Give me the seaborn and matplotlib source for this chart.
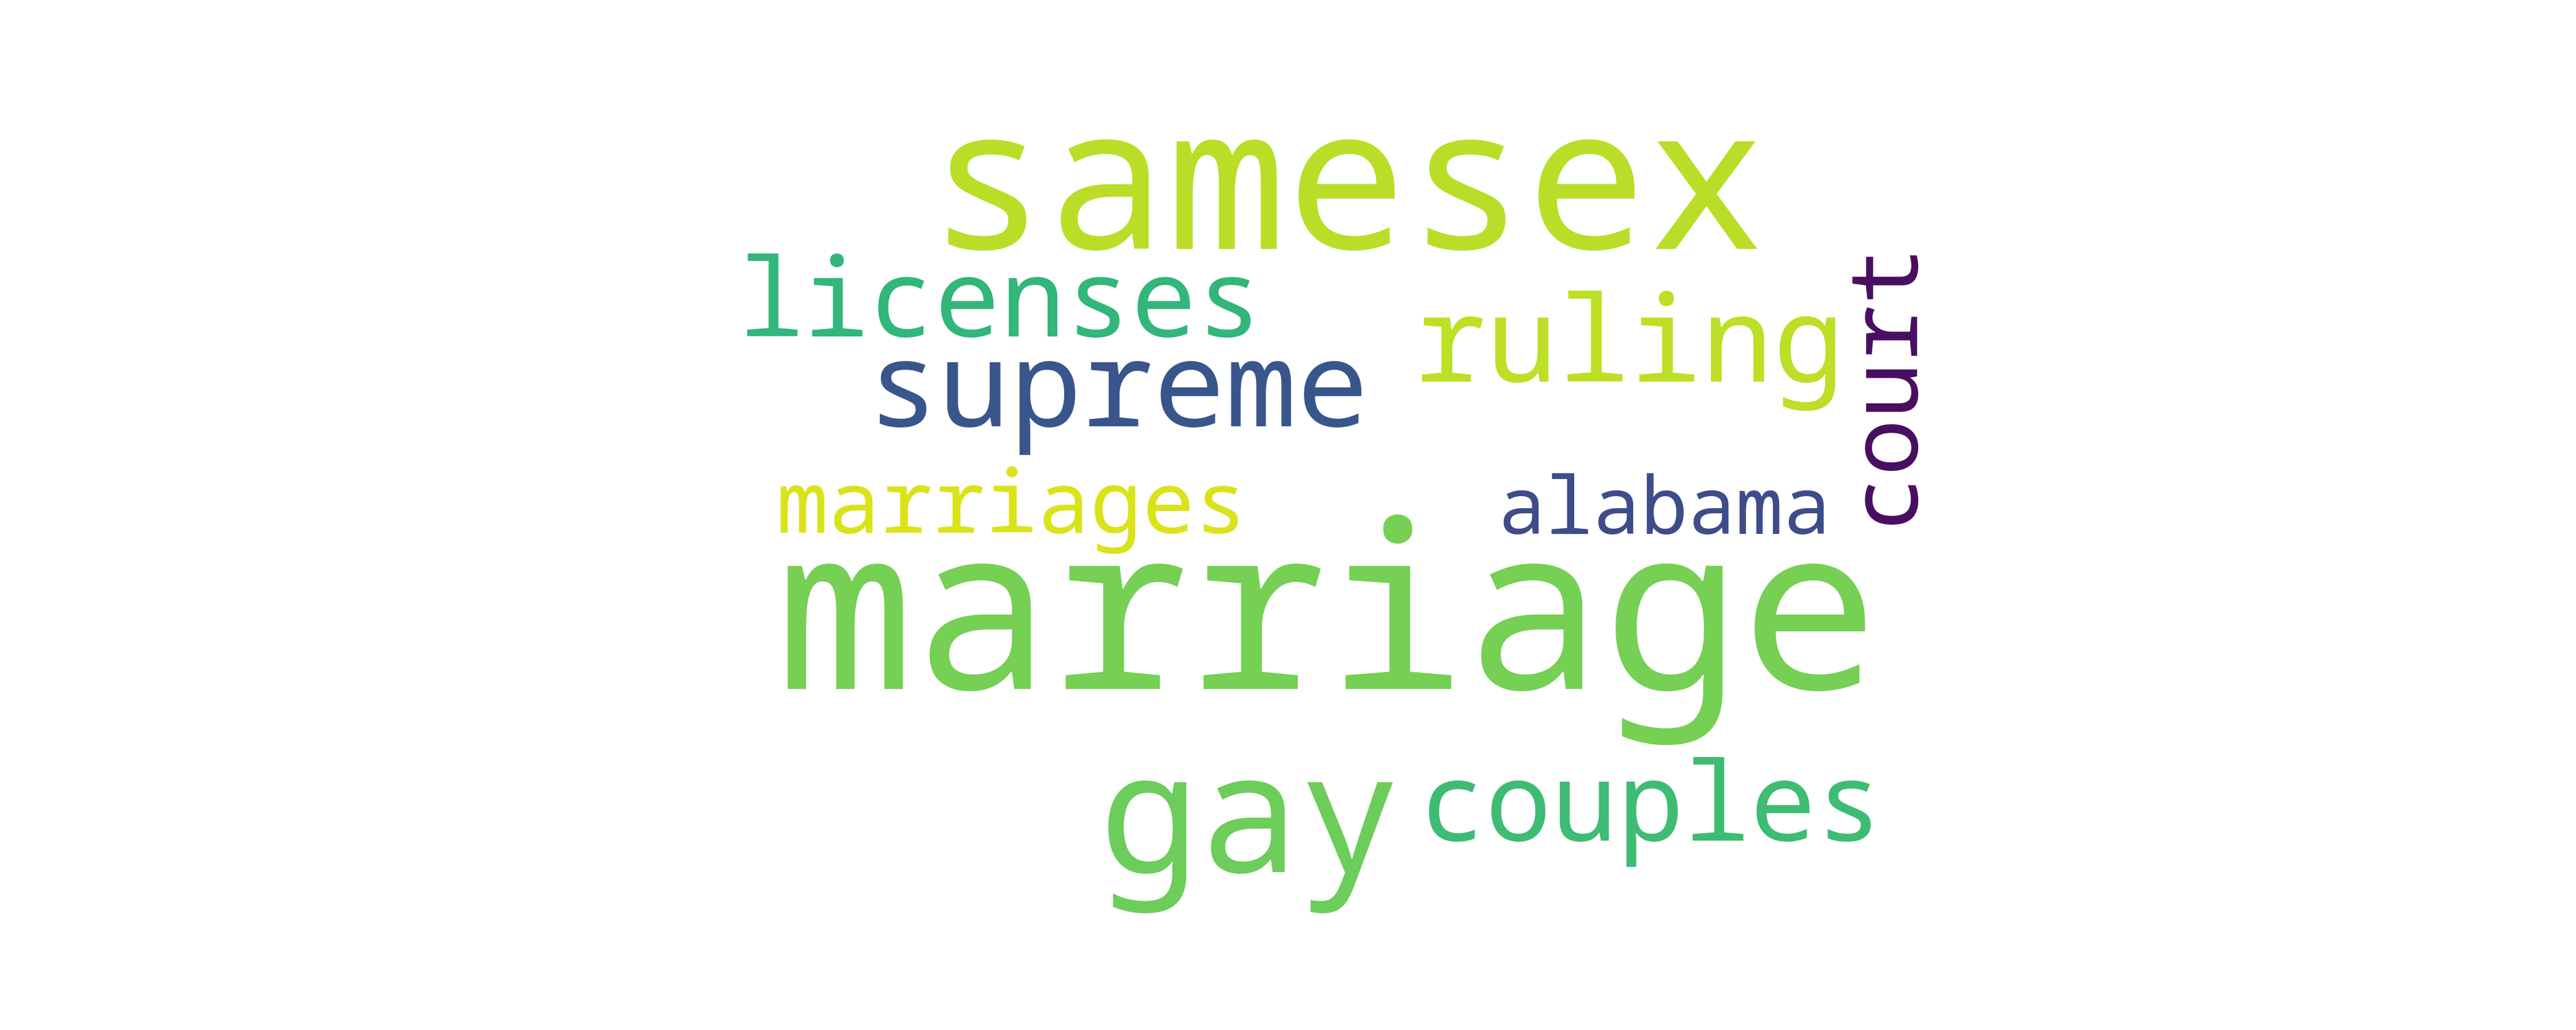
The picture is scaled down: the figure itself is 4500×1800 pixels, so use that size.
import matplotlib
matplotlib.use("Agg")
import matplotlib.pyplot as plt
import seaborn as sns
import logging
logging.getLogger("matplotlib.font_manager").setLevel(logging.ERROR)

# ---- data: words and their relative weights (font size relative to the largest word)
words = ["marriage", "samesex", "gay", "supreme", "ruling", "couples",
         "licenses", "court", "marriages", "alabama"]
weights = [1.00, 0.87, 0.73, 0.52, 0.52, 0.48, 0.475, 0.415, 0.38, 0.345]

# ---- layout (pixel positions in a 4500x1800 canvas), orientation, colours
center_x = [2319, 2353, 2184, 1952, 2847, 2884, 1748, 3336, 1767, 2907]
baseline_y = [1204, 435, 1524, 745, 667, 1469, 588, 666, 931, 933]
rotations = [0, 0, 0, 0, 0, 0, 0, 90, 0, 0]
colors = ["#75d054", "#bade28", "#6ccd5a", "#39568c", "#bddf26", "#3fbc73",
          "#32b67a", "#470d60", "#dae319", "#3e4c8a"]

MAX_PT = 289

sns.set_theme(style="white")
plt.rcParams["font.family"] = ["Noto Sans Mono", "DejaVu Sans Mono", "DejaVu Sans"]

fig = plt.figure(figsize=(45, 18), dpi=100, facecolor="white")
ax = fig.add_axes([0, 0, 1, 1])
ax.set_xlim(0, 4500)
ax.set_ylim(1800, 0)
ax.set_axis_off()

for w, wt, x, y, r, c in zip(words, weights, center_x, baseline_y, rotations, colors):
    ax.text(x, y, w, fontsize=MAX_PT * wt, color=c, rotation=r,
            ha="center", va="baseline", rotation_mode="anchor")

fig.savefig("out.png", dpi=100, facecolor="white")
